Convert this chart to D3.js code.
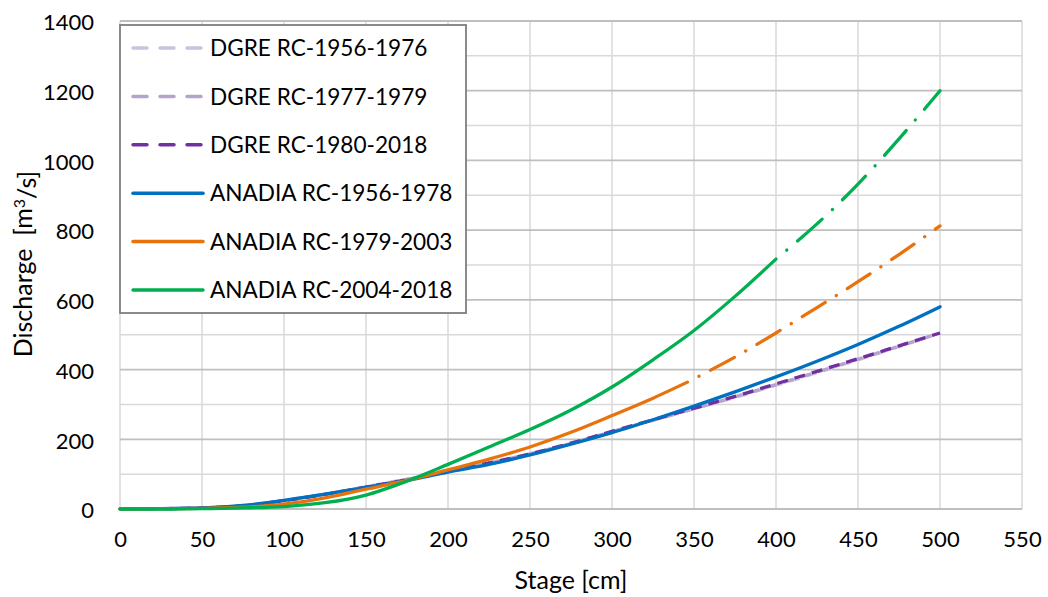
<!DOCTYPE html>
<html>
<head>
<meta charset="utf-8">
<script src="https://cdn.jsdelivr.net/npm/d3@7"></script>
<style>
  html, body { margin: 0; padding: 0; background: #fff; }
  svg { display: block; }
  text { font-family: Lato, "Open Sans", sans-serif; fill: #000; }
</style>
</head>
<body>
<svg id="chart" width="1048" height="597"></svg>
<script>
// ---------- data ----------
const stage = [0,25,50,75,100,125,150,175,200,225,250,275,300,325,350,375,400,425,450,475,500];
const dgre1956 = [0,1,3,9,24,43,64,86,108,132,158,188,221,254,287,320,355,391,428,466,505];
const dgre1977 = [0,1,3,9,24,42,63,85,108,132,158,188,222,255,288,322,357,393,430,467,505];
const dgre1980 = [0,1,3,9,24,42,63,84,108,132,158,189,223,256,289,323,359,395,431,468,505];
const anadia1956 = [0,1,3,10,25,43,62,82,106,128,155,186,219,256,295,336,379,424,472,524,580];

const stageOrangeSolid = [0,25,50,75,100,125,150,175,200,225,250,275,300,325,346];
const anadia1979Solid = [0,1,2,5,14,32,57,82,112,143,178,220,268,318,364];
const stageOrangeExt = [346,375,400,425,450,475,500];
const anadia1979Ext = [364,436,505,578,652,730,812];

const stageGreenSolid = [0,25,50,75,100,125,150,175,200,225,250,275,300,325,350,375,400];
const anadia2004Solid = [0,0,1,3,7,18,40,80,128,178,228,284,350,428,512,610,717];
const stageGreenExt = [400,425,450,475,500];
const anadia2004Ext = [717,818,932,1062,1200];

const xTicks = [0,50,100,150,200,250,300,350,400,450,500,550];
const yTicks = [0,200,400,600,800,1000,1200,1400];
const yMinor = [100,300,500,700,900,1100,1300];

const legendNames = ["DGRE RC-1956-1976","DGRE RC-1977-1979","DGRE RC-1980-2018",
                     "ANADIA RC-1956-1978","ANADIA RC-1979-2003","ANADIA RC-2004-2018"];
const colors = ["#ccc1df","#b4a4cc","#7030a0","#0070c0","#e8720c","#00b050"];

// ---------- chart ----------
const svg = d3.select("#chart");
const x = d3.scaleLinear().domain([0,550]).range([120,1022]);
const y = d3.scaleLinear().domain([0,1400]).range([509,21]);

const grid = svg.append("g");
grid.selectAll("line.v").data(xTicks).join("line")
  .attr("x1", d=>x(d)).attr("x2", d=>x(d)).attr("y1", y(0)).attr("y2", y(1400))
  .attr("stroke", "#d9d9d9").attr("stroke-width", 1.5);
grid.selectAll("line.hm").data(yMinor).join("line")
  .attr("x1", x(0)).attr("x2", x(550)).attr("y1", d=>y(d)).attr("y2", d=>y(d))
  .attr("stroke", "#d9d9d9").attr("stroke-width", 1.5);
grid.selectAll("line.hM").data(yTicks).join("line")
  .attr("x1", x(0)).attr("x2", x(550)).attr("y1", d=>y(d)).attr("y2", d=>y(d))
  .attr("stroke", "#bfbfbf").attr("stroke-width", 1.8);

// axes labels via d3 axes
const xAxis = svg.append("g").attr("transform", `translate(0,${y(0)})`)
  .call(d3.axisBottom(x).tickValues(xTicks).tickFormat(d3.format("d")).tickSize(0).tickPadding(22));
xAxis.select(".domain").remove();
xAxis.selectAll("text").style("font-size","22px").attr("fill","#000");

const yAxis = svg.append("g").attr("transform", `translate(${x(0)},0)`)
  .call(d3.axisLeft(y).tickValues(yTicks).tickFormat(d3.format("d")).tickSize(0).tickPadding(26));
yAxis.select(".domain").remove();
yAxis.selectAll("text").style("font-size","22px").attr("fill","#000").attr("dy","0.4em");

// axis titles
svg.append("text").attr("x", (x(0)+x(550))/2).attr("y", 589)
  .attr("text-anchor","middle").style("font-size","25px").text("Stage [cm]");
const yt = svg.append("text").attr("transform", `translate(32,${264}) rotate(-90)`)
  .attr("text-anchor","middle").style("font-size","25px");
yt.append("tspan").text("Discharge\u00a0\u00a0[m");
yt.append("tspan").attr("dy","-0.45em").style("font-size","16px").text("3");
yt.append("tspan").attr("dy","0.45em").text("/s]");

// lines
const line = d3.line().x(d=>x(d[0])).y(d=>y(d[1])).curve(d3.curveMonotoneX);
const zipS = (s, v) => s.map((d,i)=>[d, v[i]]);
const plot = svg.append("g").attr("fill","none").attr("stroke-linejoin","round");

const series = [
  {pts: zipS(stage, dgre1956), c: colors[0], dash: "11,7", off: 0, cap: "butt"},
  {pts: zipS(stage, dgre1977), c: colors[1], dash: "11,7", off: 6, cap: "butt"},
  {pts: zipS(stage, dgre1980), c: colors[2], dash: "11,7", off: 12, cap: "butt"},
  {pts: zipS(stage, anadia1956), c: colors[3], dash: null, cap: "round"},
  {pts: zipS(stageOrangeSolid, anadia1979Solid), c: colors[4], dash: null, cap: "round"},
  {pts: zipS(stageOrangeExt, anadia1979Ext), c: colors[4], dash: "27,13,0.1,13", off: 27, cap: "round"},
  {pts: zipS(stageGreenSolid, anadia2004Solid), c: colors[5], dash: null, cap: "round"},
  {pts: zipS(stageGreenExt, anadia2004Ext), c: colors[5], dash: "33,14,0.1,14", off: 33, cap: "round"}
];
series.forEach(s => {
  plot.append("path").attr("d", line(s.pts)).attr("stroke", s.c).attr("stroke-width", 3.3)
    .attr("stroke-linecap", s.cap)
    .attr("stroke-dasharray", s.dash).attr("stroke-dashoffset", s.off || 0);
});

// legend
const lg = svg.append("g");
lg.append("rect").attr("x",120).attr("y",25).attr("width",346).attr("height",288)
  .attr("fill","#fff").attr("stroke","#7f7f7f").attr("stroke-width",1.8);
legendNames.forEach((n,i) => {
  const cy = 48 + i*48.4;
  lg.append("line").attr("x1",133).attr("x2",203).attr("y1",cy).attr("y2",cy)
    .attr("stroke", colors[i]).attr("stroke-width",3.5)
    .attr("stroke-dasharray", i < 3 ? "14,13" : null).attr("stroke-linecap","round");
  lg.append("text").attr("x",210).attr("y",cy).attr("dy","0.36em")
    .style("font-size","22.6px").text(n);
});
</script>
</body>
</html>
